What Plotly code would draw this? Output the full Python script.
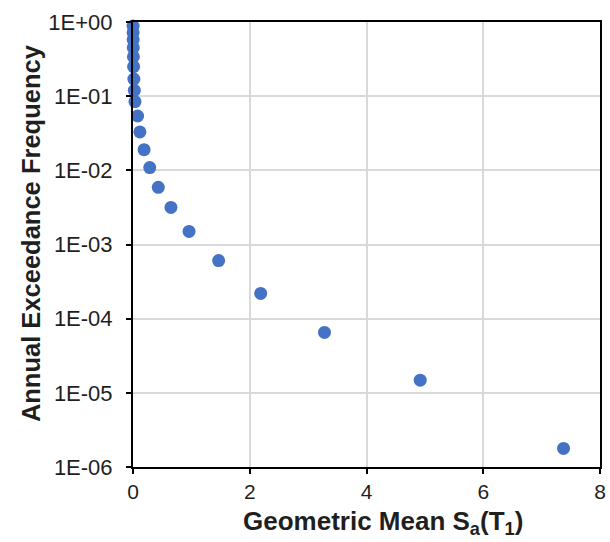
import plotly.graph_objects as go

sa_values = [0.001, 0.002, 0.003, 0.005, 0.007, 0.010, 0.015, 0.023, 0.034,
             0.079, 0.118, 0.19, 0.287, 0.433, 0.65, 0.96, 1.467, 2.187,
             3.28, 4.92, 7.375]
freq_values = [0.88, 0.72, 0.58, 0.45, 0.34, 0.25, 0.17, 0.12, 0.0845,
               0.054, 0.033, 0.019, 0.0109, 0.0059, 0.00316, 0.0015, 6.08e-4,
               2.19e-4, 6.53e-5, 1.48e-5, 1.78e-6]

x_ticks = [0, 2, 4, 6, 8]
y_ticks = [1, 1e-1, 1e-2, 1e-3, 1e-4, 1e-5, 1e-6]
y_tick_labels = ["1E+00", "1E-01", "1E-02", "1E-03", "1E-04", "1E-05", "1E-06"]
x_title = "<b>Geometric Mean S<sub>a</sub>(T<sub>1</sub>)</b>"
y_title = "<b>Annual Exceedance Frequency</b>"

font_family = "Liberation Sans, Arial, sans-serif"
text_color = "#1f1f1f"

fig = go.Figure(go.Scatter(
    x=sa_values, y=freq_values, mode="markers",
    marker=dict(color="#4472C4", size=13, line=dict(width=0)),
    cliponaxis=False,
))

fig.update_layout(
    width=610, height=542,
    margin=dict(l=133, r=4, t=22, b=75),
    paper_bgcolor="white", plot_bgcolor="white",
    showlegend=False,
    font=dict(family=font_family, size=22, color=text_color),
    annotations=[
        dict(text=x_title, xref="paper", yref="paper", x=0.535, y=-0.124,
             xanchor="center", yanchor="middle", showarrow=False,
             font=dict(size=26, color=text_color)),
        dict(text=y_title, xref="paper", yref="paper", x=-0.218, y=0.526,
             xanchor="center", yanchor="middle", showarrow=False, textangle=-90,
             font=dict(size=25.5, color=text_color)),
    ],
)
fig.update_xaxes(
    range=[0, 8], tickvals=x_ticks, ticktext=[str(v) for v in x_ticks],
    showgrid=True, gridcolor="#d9d9d9", gridwidth=1.5,
    showline=True, linecolor="black", linewidth=2, mirror=True,
    ticks="outside", ticklen=5, tickcolor="black", tickwidth=1.5,
    zeroline=False,
    tickfont=dict(size=21, color=text_color),
)
fig.update_yaxes(
    type="log", range=[-6, 0], tickvals=y_ticks, ticktext=y_tick_labels,
    showgrid=True, gridcolor="#d9d9d9", gridwidth=1.5,
    showline=True, linecolor="black", linewidth=2, mirror=True,
    ticks="outside", ticklen=5, tickcolor="black", tickwidth=1.5,
    zeroline=False, ticklabelstandoff=9,
    tickfont=dict(size=22, color=text_color),
)

fig.write_html("out.html")
